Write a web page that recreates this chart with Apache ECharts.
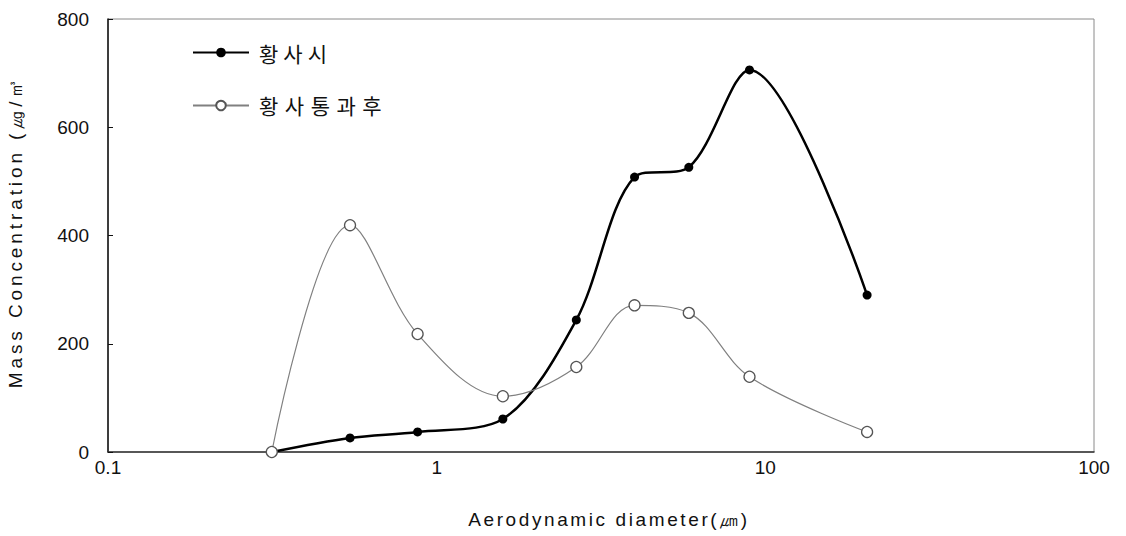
<!DOCTYPE html>
<html>
<head>
<meta charset="utf-8">
<script src="https://cdn.jsdelivr.net/npm/echarts@6/dist/echarts.min.js"></script>
<style>html,body{margin:0;padding:0;background:#fff}#c{width:1126px;height:536px}</style>
</head>
<body>
<div id="c"></div>
<script>
const seriesNames = ['황사시', '황사통과후'];
const diameters = [0.315, 0.545, 0.875, 1.59, 2.66, 4.0, 5.85, 8.95, 20.4];
const duringDust = [0, 26, 37, 61, 244, 508, 526, 706, 290];
const afterDust = [0, 419, 218, 103, 157, 271, 257, 139, 37];
const xTicks = [0.1, 1, 10, 100];
const yTicks = [0, 200, 400, 600, 800];
const xName = 'Aerodynamic diameter(㎛)';
const yName = 'Mass Concentration (㎍/㎥';

const chart = echarts.init(document.getElementById('c'), null, {renderer: 'svg'});
const pair = (xs, ys) => xs.map((x, i) => [x, ys[i]]);
const font = 'Liberation Sans, Arial, sans-serif';
chart.setOption({
  animation: false,
  backgroundColor: '#fff',
  grid: {left: 108, right: 32, top: 19, bottom: 84, containLabel: false, outerBoundsMode: 'none',
    show: true, borderColor: '#8a8a8a', borderWidth: 1},
  legend: {
    orient: 'vertical', left: 192, top: 42, padding: 0, itemWidth: 56, itemHeight: 12, itemGap: 32,
    textStyle: {fontFamily: 'Noto Sans CJK KR', fontSize: 21, color: '#111', padding: [0, 0, 0, 5]},
    data: seriesNames
  },
  xAxis: {
    type: 'log', logBase: 10, min: xTicks[0], max: xTicks[xTicks.length - 1],
    name: xName, nameLocation: 'middle', nameGap: 58,
    nameTextStyle: {fontFamily: font, fontSize: 19, color: '#111', padding: [0, 0, 0, 16]},
    axisLine: {show: true, lineStyle: {color: '#333', width: 1.5}},
    axisTick: {show: false},
    minorTick: {show: false},
    splitLine: {show: false},
    axisLabel: {fontFamily: font, fontSize: 19, color: '#111', margin: 6,
      formatter: v => xTicks.includes(+v.toPrecision(6)) ? String(+v.toPrecision(6)) : ''}
  },
  yAxis: {
    type: 'value', min: 0, max: 800, interval: 200,
    name: yName, nameLocation: 'middle', nameGap: 83,
    nameTextStyle: {fontFamily: font, fontSize: 19, color: '#111', padding: [0, 0, 0, 8]},
    axisLine: {show: true, lineStyle: {color: '#111', width: 1.5}},
    axisTick: {show: true, inside: true, length: 5, lineStyle: {color: '#111'}},
    splitLine: {show: false},
    axisLabel: {fontFamily: font, fontSize: 19, color: '#111', margin: 19,
      formatter: v => yTicks.includes(v) ? String(v) : ''}
  },
  series: [
    {
      name: seriesNames[0], type: 'line', smooth: 0.32, z: 3,
      data: pair(diameters, duringDust),
      symbol: 'circle', symbolSize: 9, showAllSymbol: true,
      lineStyle: {color: '#000', width: 2.5},
      itemStyle: {color: '#000', borderColor: '#000', borderWidth: 0}
    },
    {
      name: seriesNames[1], type: 'line', smooth: 0.35, z: 4,
      data: pair(diameters, afterDust),
      symbol: 'circle', symbolSize: 11, showAllSymbol: true,
      lineStyle: {color: '#808080', width: 1.2},
      itemStyle: {color: '#fff', borderColor: '#555', borderWidth: 1.3}
    }
  ]
});
const spacing = {};
spacing[xName] = '2.6px';
spacing[yName] = '3.9px';
spacing[seriesNames[0]] = '5px';
spacing[seriesNames[1]] = '6.5px';
document.querySelectorAll('#c svg text').forEach(t => {
  const s = spacing[t.textContent];
  if (s) t.style.letterSpacing = s;
});
</script>
</body>
</html>
